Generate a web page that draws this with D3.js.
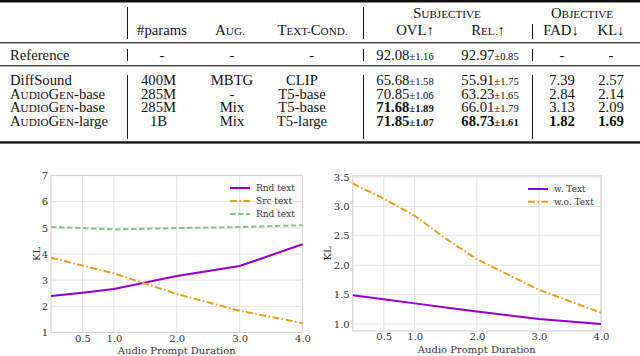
<!DOCTYPE html>
<html><head><meta charset="utf-8">
<script src="https://cdn.jsdelivr.net/npm/d3@7"></script>
<style>html,body{margin:0;padding:0;background:#fff;}svg{display:block;}</style>
</head><body>
<script>
// ---------- table data ----------
const rowNames = ["Reference","DiffSound","AudioGen-base","AudioGen-base","AudioGen-large"];
const paramsCol = ["-","400M","285M","285M","1B"];
const augCol = ["-","MBTG","-","Mix","Mix"];
const textCondCol = ["-","CLIP","T5-base","T5-base","T5-large"];
const ovlVals = ["92.08","65.68","70.85","71.68","71.85"];
const ovlErrs = ["1.16","1.58","1.06","1.89","1.07"];
const relVals = ["92.97","55.91","63.23","66.01","68.73"];
const relErrs = ["0.85","1.75","1.65","1.79","1.61"];
const fadVals = ["-","7.39","2.84","3.13","1.82"];
const klVals = ["-","2.57","2.14","2.09","1.69"];
const ovlBold = [false,false,false,true,true];
const relBold = [false,false,false,false,true];
const fadBold = [false,false,false,false,true];
const klBold = [false,false,false,false,true];

// ---------- chart data ----------
const durLeft = [0, 0.5, 1, 2, 3, 4];
const leftNames = ["Rnd text","Src text","Rnd text"];
const leftRnd = [2.39, 2.52, 2.66, 3.16, 3.54, 4.37];
const leftSrc = [3.86, 3.56, 3.26, 2.47, 1.83, 1.36];
const leftRnd2 = [5.03, 4.99, 4.94, 4.99, 5.03, 5.10];
const durRight = [0, 0.5, 1, 1.5, 2, 3, 4];
const rightNames = ["w. Text","w.o. Text"];
const rightWith = [1.49, 1.42, 1.35, 1.28, 1.21, 1.085, 1.0];
const rightWithout = [3.39, 3.13, 2.84, 2.45, 2.10, 1.58, 1.19];
const xTicks = [0.5, 1, 2, 3, 4];
const leftYTicks = [1,2,3,4,5,6,7];
const rightYTicks = [1.0,1.5,2.0,2.5,3.0,3.5];

const W = 640, H = 356;
const svg = d3.select("body").append("svg").attr("width", W).attr("height", H);

// font availability check
function hasFont(f) {
  const c = document.createElement("canvas").getContext("2d");
  const s = "Audio Prompt Duration 0123456789";
  c.font = "20px monospace"; const a = c.measureText(s).width;
  c.font = `20px '${f}', monospace`; const b = c.measureText(s).width;
  return Math.abs(a-b) > 0.5;
}

// ---------- table ----------
const TF = "'Liberation Serif','Times New Roman',serif";
const FS = 14.7;
const tbl = svg.append("g").attr("font-family", TF).attr("fill", "#111").attr("font-size", FS);

[[0,2.5],[42.2,1.1],[65.2,1.1],[141.3,2.3]].forEach(([y,h]) =>
  tbl.append("rect").attr("x",0).attr("y",y).attr("width",W).attr("height",h).attr("fill","#111"));
const vsegs = [[127.5,7,39],[127.5,49,61],[127.5,75,139],
               [363.5,7,39],[363.5,49,61],[363.5,75,139],
               [532.5,24,39],[532.5,49,61],[532.5,75,139]];
vsegs.forEach(([x,y1,y2]) => tbl.append("line").attr("x1",x).attr("x2",x).attr("y1",y1).attr("y2",y2)
  .attr("stroke","#111").attr("stroke-width",1));

function sc(g, x, y, parts, anchor="middle", bold=false) {
  const t = g.append("text").attr("x", x).attr("y", y).attr("text-anchor", anchor)
    .attr("font-weight", bold ? "bold" : null);
  parts.forEach(([s, small]) => t.append("tspan").text(s).attr("font-size", small ? FS*0.76 : FS));
  return t;
}
function scName(name) {
  if (name.startsWith("AudioGen")) return [["A",false],["UDIO",true],["G",false],["EN",true],[name.slice(8),false]];
  return [[name,false]];
}

sc(tbl, 447, 17.5, [["S",false],["UBJECTIVE",true]]);
sc(tbl, 582, 17.5, [["O",false],["BJECTIVE",true]]);
const hy = 35;
sc(tbl, 162, hy, [["#params",false]]);
sc(tbl, 230, hy, [["A",false],["UG.",true]]);
sc(tbl, 312.5, hy, [["T",false],["EXT-",true],["C",false],["OND.",true]]);
sc(tbl, 415, hy, [["OVL↑",false]]);
sc(tbl, 488, hy, [["R",false],["EL.",true],["↑",false]]);
sc(tbl, 561, hy, [["FAD↓",false]]);
sc(tbl, 611, hy, [["KL↓",false]]);

const rowBase = [60, 85, 98.6, 112.2, 125.8];
rowNames.forEach((n,i) => {
  const y = rowBase[i];
  sc(tbl, 10, y, scName(n), "start");
  sc(tbl, paramsCol[i] === "-" ? 162 : 158.5, y, [[paramsCol[i],false]]);
  sc(tbl, 232, y, [[augCol[i],false]]);
  sc(tbl, textCondCol[i] === "-" ? 311.7 : 302, y, [[textCondCol[i],false]]);
  const o = tbl.append("text").attr("x",405).attr("y",y).attr("text-anchor","middle").attr("font-weight", ovlBold[i]?"bold":null);
  o.append("tspan").text(ovlVals[i]);
  o.append("tspan").text("±"+ovlErrs[i]).attr("font-size", FS*0.72);
  const r = tbl.append("text").attr("x",490).attr("y",y).attr("text-anchor","middle").attr("font-weight", relBold[i]?"bold":null);
  r.append("tspan").text(relVals[i]);
  r.append("tspan").text("±"+relErrs[i]).attr("font-size", FS*0.72);
  sc(tbl, 562, y, [[fadVals[i],false]], "middle", fadBold[i]);
  sc(tbl, 611, y, [[klVals[i],false]], "middle", klBold[i]);
});

// ---------- charts ----------
const CF = hasFont("DejaVu Serif") ? "DejaVu Serif" : "Liberation Serif";
const purple = "#9400d3", orange = "#e3a21a", green = "#8cc48c";
const gridC = "#e3e3e3", spineC = "#d6d6d6", txtC = "#333";

function chart(opt) {
  const x = d3.scaleLinear().domain([0,4]).range([opt.x0, opt.x1]);
  const y = d3.scaleLinear().domain(opt.ydom).range([opt.y1, opt.y0]);
  const g = svg.append("g").style("font-family", CF);
  g.append("g").selectAll("line").data(opt.yTicks).join("line")
    .attr("x1",opt.x0).attr("x2",opt.x1).attr("y1",d=>y(d)).attr("y2",d=>y(d))
    .attr("stroke",gridC).attr("stroke-width",1);
  g.append("g").selectAll("line").data(xTicks).join("line")
    .attr("y1",opt.y0).attr("y2",opt.y1).attr("x1",d=>x(d)).attr("x2",d=>x(d))
    .attr("stroke",gridC).attr("stroke-width",1);
  const xa = g.append("g").attr("transform",`translate(0,${opt.y1})`)
    .call(d3.axisBottom(x).tickValues(xTicks).tickFormat(d3.format(".1f")).tickSize(0).tickPadding(2));
  const ya = g.append("g").attr("transform",`translate(${opt.x0},0)`)
    .call(d3.axisLeft(y).tickValues(opt.yTicks).tickFormat(opt.yFmt).tickSize(0).tickPadding(3));
  [xa, ya].forEach(a => {
    a.select(".domain").remove();
    a.attr("font-family", null);
    a.selectAll("text").style("font-family", CF).attr("font-size", 10).attr("fill", txtC);
  });
  g.append("rect").attr("x",opt.x0).attr("y",opt.y0).attr("width",opt.x1-opt.x0).attr("height",opt.y1-opt.y0)
    .attr("fill","none").attr("stroke",spineC).attr("stroke-width",1.2);
  const clipId = "clip"+opt.id;
  svg.append("clipPath").attr("id",clipId).append("rect")
    .attr("x",opt.x0).attr("y",opt.y0-2).attr("width",opt.x1-opt.x0+1).attr("height",opt.y1-opt.y0+4);
  opt.series.forEach(s => {
    const line = d3.line().x((d,i)=>x(opt.xs[i])).y(d=>y(d));
    g.append("path").datum(s.vals).attr("d", line).attr("fill","none")
      .attr("stroke", s.color).attr("stroke-width", 2)
      .attr("stroke-dasharray", s.dash).attr("clip-path", `url(#${clipId})`);
  });
  opt.series.filter(s=>s.legend).forEach((s,i) => {
    const ly = opt.legY + i*opt.legDy;
    g.append("line").attr("x1",opt.legX).attr("x2",opt.legX+20).attr("y1",ly).attr("y2",ly)
      .attr("stroke",s.color).attr("stroke-width",2).attr("stroke-dasharray",s.dash);
    g.append("text").attr("x",opt.legX+26).attr("y",ly+3.2).attr("font-size",9).attr("fill",txtC).text(s.name);
  });
  g.append("text").attr("transform",`translate(${opt.ylabX},${(opt.y0+opt.y1)/2}) rotate(-90)`)
    .attr("text-anchor","middle").attr("dy","0.35em").attr("font-size",10).attr("fill",txtC).text("KL");
  g.append("text").attr("x",(opt.x0+opt.x1)/2).attr("y",opt.xlabY).attr("text-anchor","middle")
    .attr("dy","0.35em").attr("font-size",10).attr("fill",txtC).text("Audio Prompt Duration");
}

chart({id:1, x0:51, x1:302.5, y0:175.5, y1:332.5, ydom:[1,7], yTicks:leftYTicks, yFmt:d3.format("d"),
  xs:durLeft, ylabX:36, xlabY:350.5, legX:230, legY:188, legDy:13,
  series:[
    {name:leftNames[0], vals:leftRnd, color:purple, dash:null, legend:true},
    {name:leftNames[1], vals:leftSrc, color:orange, dash:"7,2.5,1.5,2.5", legend:true},
    {name:leftNames[2], vals:leftRnd2, color:green, dash:"5.5,2.5", legend:true}
  ]});

chart({id:2, x0:352.7, x1:601, y0:175.8, y1:331, ydom:[0.88,3.52], yTicks:rightYTicks, yFmt:d3.format(".1f"),
  xs:durRight, ylabX:327, xlabY:349.3, legX:528, legY:189, legDy:12.7,
  series:[
    {name:rightNames[0], vals:rightWith, color:purple, dash:null, legend:true},
    {name:rightNames[1], vals:rightWithout, color:orange, dash:"7,2.5,1.5,2.5", legend:true}
  ]});
</script>
</body></html>
